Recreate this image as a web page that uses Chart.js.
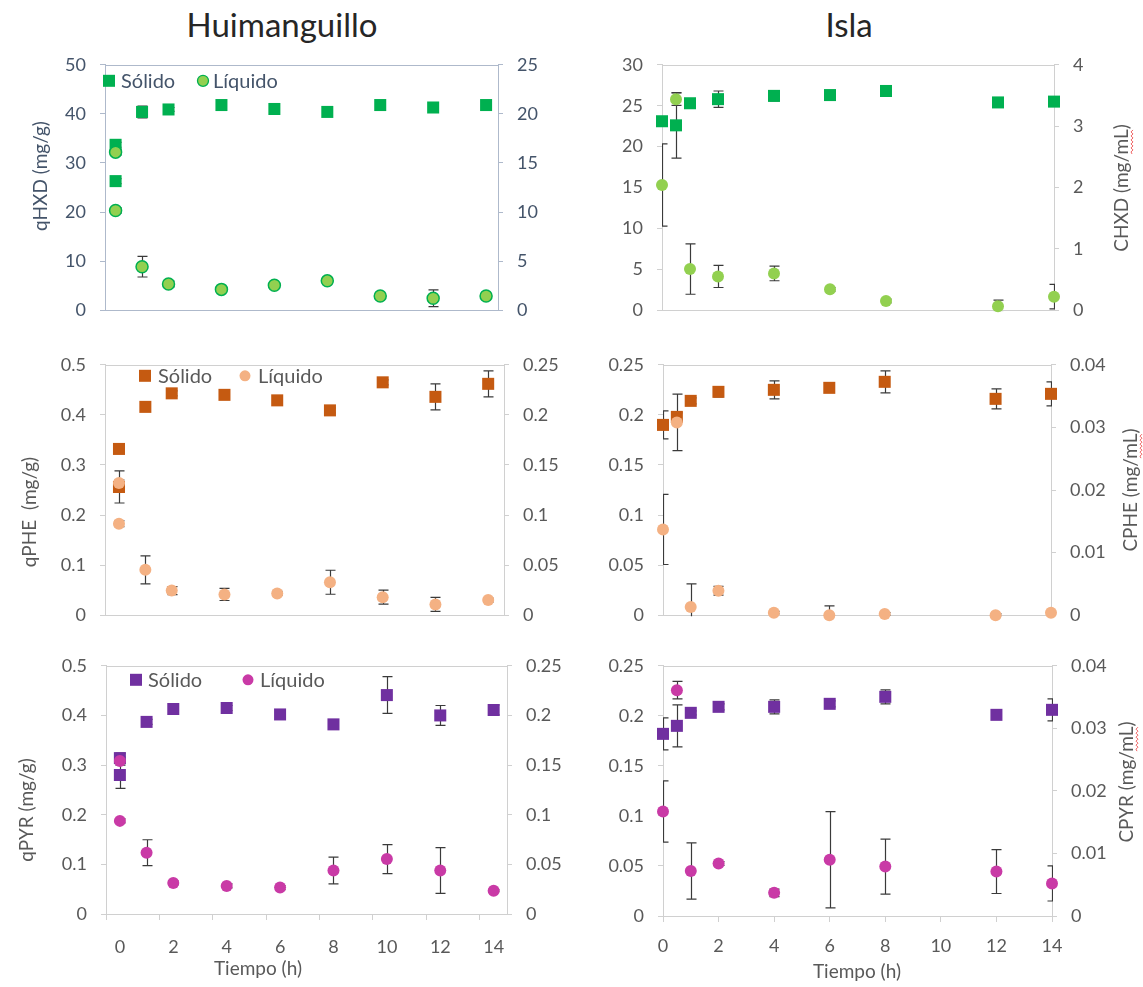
<!DOCTYPE html>
<html><head><meta charset="utf-8">
<script src="https://cdn.jsdelivr.net/npm/chart.js@4.4.1/dist/chart.umd.min.js"></script>
<style>
html,body{margin:0;padding:0;background:#fff;}
body{width:1143px;height:987px;position:relative;overflow:hidden;font-family:Lato,'DejaVu Sans',sans-serif;}
canvas{position:absolute;}
.hdr{position:absolute;font-size:33px;color:#262626;top:4px;transform:translateX(-50%);white-space:nowrap;}
.xt{position:absolute;font-size:19px;color:#595959;transform:translateX(-50%);white-space:nowrap;line-height:22px;}
</style></head><body>
<div class="hdr" style="left:282px">Huimanguillo</div>
<div class="hdr" style="left:849px">Isla</div>
<canvas id="tl"></canvas><canvas id="ml"></canvas><canvas id="bl"></canvas>
<canvas id="tr"></canvas><canvas id="mr"></canvas><canvas id="br"></canvas>
<div class="xt" style="left:258px;top:957px">Tiempo (h)</div>
<div class="xt" style="left:857px;top:960px">Tiempo (h)</div>
<script>
// ---------- data ----------
const hTime = [0, 0, 1, 2, 4, 6, 8, 10, 12, 14];
const iTime = [0, 0.5, 1, 2, 4, 6, 8, 12, 14];
const xTickLabels = [0, 2, 4, 6, 8, 10, 12, 14];

const hHxdSol = [33.7, 26.3, 40.4, 40.9, 41.8, 41.0, 40.4, 41.8, 41.3, 41.8];
const hHxdSolErr = [0.5, 0.5, 1.2, 0.4, 0.3, 0.3, 0.4, 0.4, 0.3, 0.3];
const hHxdLiq = [16.1, 10.15, 4.43, 2.67, 2.12, 2.54, 2.99, 1.45, 1.22, 1.45];
const hHxdLiqErr = [0.3, 0.3, 1.05, 0.3, 0.2, 0.2, 0.3, 0.2, 0.85, 0.2];

const iHxdSol = [23.1, 22.6, 25.3, 25.8, 26.2, 26.3, 26.8, 25.4, 25.5];
const iHxdSolErr = [0.3, 4.0, 0.3, 1.0, 0.6, 0.3, 0.4, 0.3, 0.3];
const iHxdLiq = [2.04, 3.44, 0.67, 0.55, 0.60, 0.34, 0.15, 0.065, 0.22];
const iHxdLiqErr = [0.67, 0.1, 0.41, 0.18, 0.12, 0.03, 0.03, 0.1, 0.2];

const hPheSol = [0.332, 0.256, 0.416, 0.443, 0.440, 0.429, 0.409, 0.465, 0.436, 0.462];
const hPheSolErr = [0.005, 0.032, 0.005, 0.005, 0.005, 0.005, 0.005, 0.005, 0.026, 0.026];
const hPheLiq = [0.132, 0.0913, 0.0453, 0.0246, 0.0207, 0.0217, 0.0329, 0.018, 0.0108, 0.0151];
const hPheLiqErr = [0.003, 0.003, 0.014, 0.004, 0.006, 0.002, 0.012, 0.007, 0.007, 0.002];

const iPheSol = [0.190, 0.198, 0.214, 0.223, 0.225, 0.227, 0.233, 0.216, 0.221];
const iPheSolErr = [0.014, 0.004, 0.003, 0.005, 0.009, 0.004, 0.011, 0.010, 0.012];
const iPheLiq = [0.0137, 0.0308, 0.0013, 0.0039, 0.0004, 0.0000, 0.0002, 0.0000, 0.0004];
const iPheLiqErr = [0.0056, 0.0045, 0.0037, 0.0007, 0.0002, 0.0015, 0.0002, 0.0002, 0.0002];

const hPyrSol = [0.314, 0.280, 0.387, 0.413, 0.415, 0.402, 0.382, 0.441, 0.400, 0.411];
const hPyrSolErr = [0.01, 0.027, 0.005, 0.005, 0.005, 0.004, 0.005, 0.037, 0.02, 0.01];
const hPyrLiq = [0.154, 0.0938, 0.0618, 0.0313, 0.0283, 0.0266, 0.0438, 0.0553, 0.0438, 0.0234];
const hPyrLiqErr = [0.004, 0.002, 0.013, 0.002, 0.002, 0.002, 0.0135, 0.0146, 0.023, 0.001];

const iPyrSol = [0.182, 0.190, 0.203, 0.209, 0.209, 0.212, 0.219, 0.201, 0.206];
const iPyrSolErr = [0.016, 0.021, 0.002, 0.003, 0.007, 0.003, 0.007, 0.004, 0.011];
const iPyrLiq = [0.0167, 0.0361, 0.0072, 0.0084, 0.0037, 0.009, 0.0079, 0.0071, 0.0052];
const iPyrLiqErr = [0.0049, 0.0014, 0.0045, 0.0003, 0.0006, 0.0077, 0.0044, 0.0035, 0.0028];

// tick label arrays
const hHxdQTicks = [0, 10, 20, 30, 40, 50];
const hHxdCTicks = [0, 5, 10, 15, 20, 25];
const iHxdQTicks = [0, 5, 10, 15, 20, 25, 30];
const iHxdCTicks = [0, 1, 2, 3, 4];
const q05Ticks = [0, 0.1, 0.2, 0.3, 0.4, 0.5];
const q025Ticks = [0, 0.05, 0.1, 0.15, 0.2, 0.25];
const c004Ticks = [0, 0.01, 0.02, 0.03, 0.04];

const legendLabels = ['Sólido', 'Líquido'];

// ---------- drawing ----------
const FONT = 'Lato, "DejaVu Sans", sans-serif';
const themeBlue = {text: '#44546A', line: '#AEB9CB'};
const themeGray = {text: '#595959', line: '#D0D0D0'};

const deco = {
  id: 'deco',
  beforeDatasetsDraw(chart, args, o) {
    const {ctx, chartArea: a} = chart;
    ctx.save();
    ctx.strokeStyle = o.line; ctx.lineWidth = 1;
    ctx.strokeRect(Math.round(a.left) + 0.5, Math.round(a.top) + 0.5, Math.round(a.right - a.left), Math.round(a.bottom - a.top));
    ctx.beginPath(); ctx.rect(a.left, a.top - 1, a.right - a.left + 1, a.bottom - a.top + 2); ctx.clip();
    ctx.strokeStyle = '#3a3a3a'; ctx.lineWidth = 1.2;
    chart.data.datasets.forEach(ds => {
      if (!ds.errors) return;
      const ys = chart.scales[ds.yAxisID], xs = chart.scales.x;
      ds.data.forEach((pt, j) => {
        const e = ds.errors[j];
        if (!e) return;
        const x = Math.round(xs.getPixelForValue(pt.x)) + 0.5;
        const y1 = ys.getPixelForValue(pt.y + e), y2 = ys.getPixelForValue(pt.y - e);
        ctx.beginPath();
        ctx.moveTo(x, y1); ctx.lineTo(x, y2);
        ctx.moveTo(x - 5, y1); ctx.lineTo(x + 5, y1);
        ctx.moveTo(x - 5, y2); ctx.lineTo(x + 5, y2);
        ctx.stroke();
      });
    });
    ctx.restore();
  },
  afterDraw(chart, args, o) {
    const {ctx, chartArea: a} = chart;
    ctx.save();
    // legend
    const lg = o.legend;
    if (lg) {
      const y = a.top + lg.dy;
      const ds = chart.data.datasets;
      ctx.font = '20px ' + FONT; ctx.textBaseline = 'middle'; ctx.textAlign = 'left';
      ctx.fillStyle = ds[1].backgroundColor;
      ctx.fillRect(a.left + lg.sq - 6, y - 6, 12, 12);
      ctx.fillStyle = o.text;
      ctx.fillText(legendLabels[0], a.left + lg.t1, y + 1);
      ctx.beginPath(); ctx.arc(a.left + lg.ci, y, 5.5, 0, Math.PI * 2);
      ctx.fillStyle = ds[0].backgroundColor; ctx.fill();
      if (ds[0].borderWidth) { ctx.strokeStyle = ds[0].borderColor; ctx.lineWidth = 1.3; ctx.stroke(); }
      ctx.fillStyle = o.text;
      ctx.fillText(legendLabels[1], a.left + lg.t2, y + 1);
    }
    // axis titles (rotated, reading upward)
    ctx.font = '19px ' + FONT; ctx.textAlign = 'center'; ctx.textBaseline = 'middle';
    o.titles.forEach(t => {
      ctx.save();
      ctx.translate(t.x - o.ox, t.y - o.oy);
      ctx.rotate(-Math.PI / 2);
      ctx.fillStyle = o.text;
      ctx.fillText(t.text, 0, 0);
      if (t.squiggle) {
        const w = ctx.measureText(t.text).width;
        const i0 = t.text.indexOf(t.squiggle);
        const s0 = -w / 2 + ctx.measureText(t.text.slice(0, i0)).width;
        const s1 = s0 + ctx.measureText(t.squiggle).width;
        ctx.strokeStyle = '#F06060'; ctx.lineWidth = 1;
        ctx.beginPath();
        let up = true;
        ctx.moveTo(s0, 10);
        for (let xx = s0 + 2; xx <= s1; xx += 2) { ctx.lineTo(xx, up ? 9 : 11); up = !up; }
        ctx.stroke();
      }
      ctx.restore();
    });
    ctx.restore();
  }
};

function pts(time, vals) { return time.map((t, i) => ({x: t, y: vals[i]})); }

function makePanel(p) {
  const cv = document.getElementById(p.id);
  const [cx, cy, cw, ch] = p.canvas;
  cv.width = cw; cv.height = ch;
  Object.assign(cv.style, {left: cx + 'px', top: cy + 'px', width: cw + 'px', height: ch + 'px'});
  const [L, T, R, B] = p.plot;
  const leftW = L - cx, rightW = cx + cw - R, padTop = T - cy, bottomH = cy + ch - B;
  const th = p.theme;
  const tickFont = {family: FONT, size: 18};
  const yAxis = (arr, pos, w) => ({
    type: 'linear', position: pos, min: arr[0], max: arr[arr.length - 1],
    afterBuildTicks: s => { s.ticks = arr.map(v => ({value: v})); },
    afterFit: s => { s.width = w; },
    ticks: {color: th.text, font: tickFont, padding: 14, callback: v => String(v)},
    grid: {drawOnChartArea: false, drawTicks: true, tickLength: 5, color: th.line},
    border: {display: true, color: th.line}
  });
  const xAxis = p.bottom ? {
    type: 'linear', position: 'bottom', min: p.xr[0], max: p.xr[1],
    afterBuildTicks: s => { s.ticks = xTickLabels.map(v => ({value: v - p.xShift})); },
    afterFit: s => { s.height = bottomH; },
    ticks: {color: th.text, font: tickFont, padding: p.xPad, labelOffset: p.xLabelOffset, maxRotation: 0, autoSkip: false,
            callback: (v, i) => String(xTickLabels[i])},
    grid: {drawOnChartArea: false, drawTicks: true, tickLength: 6, color: th.line},
    border: {display: true, color: th.line}
  } : {type: 'linear', display: false, min: p.xr[0], max: p.xr[1]};
  new Chart(cv, {
    type: 'scatter',
    data: {
      datasets: [
        {label: legendLabels[1], data: pts(p.time, p.liq), errors: p.liqErr, yAxisID: 'y2',
         pointStyle: 'circle', pointRadius: 6, backgroundColor: p.liqColor, borderColor: p.liqBorder || p.liqColor,
         borderWidth: p.liqBorder ? 1.5 : 0, clip: false},
        {label: legendLabels[0], data: pts(p.time, p.sol), errors: p.solErr, yAxisID: 'y',
         pointStyle: 'rect', pointRadius: 8.5, backgroundColor: p.solColor, borderColor: p.solColor,
         borderWidth: 0, clip: false}
      ]
    },
    options: {
      responsive: false, animation: false, events: [],
      layout: {padding: {top: padTop, bottom: p.bottom ? 0 : bottomH, left: 0, right: 0}},
      scales: {x: xAxis, y: yAxis(p.qTicks, 'left', leftW), y2: yAxis(p.cTicks, 'right', rightW)},
      plugins: {
        legend: {display: false}, tooltip: {enabled: false},
        deco: {line: th.line, text: th.text, legend: p.legend, titles: p.titles, ox: cx, oy: cy}
      }
    },
    plugins: [deco]
  });
}

const HXD = {solColor: '#00B050', liqColor: '#92D050'};
const PHE = {solColor: '#C55A11', liqColor: '#F4B183'};
const PYR = {solColor: '#7030A0', liqColor: '#C93AA6'};

makePanel({id: 'tl', canvas: [0, 40, 585, 295], plot: [105, 60, 498, 319], theme: themeBlue,
  xr: [-0.4, 14.45], time: hTime, sol: hHxdSol, solErr: hHxdSolErr, liq: hHxdLiq, liqErr: hHxdLiqErr,
  ...HXD, liqBorder: '#00B050', qTicks: hHxdQTicks, cTicks: hHxdCTicks,
  legend: {dy: 16, sq: 4, t1: 16, ci: 98, t2: 108},
  titles: [{text: 'qHXD (mg/g)', x: 41, y: 176}]});
makePanel({id: 'ml', canvas: [0, 340, 585, 300], plot: [105, 362, 504, 616], theme: themeGray,
  xr: [-0.53, 14.6], time: hTime, sol: hPheSol, solErr: hPheSolErr, liq: hPheLiq, liqErr: hPheLiqErr,
  ...PHE, qTicks: q05Ticks, cTicks: q025Ticks,
  legend: {dy: 11, sq: 40, t1: 53, ci: 140, t2: 153},
  titles: [{text: 'qPHE  (mg/g)', x: 30, y: 512}]});
makePanel({id: 'bl', canvas: [0, 641, 585, 346], plot: [106, 661, 507, 914], theme: themeGray, bottom: true,
  xr: [-0.52, 14.5], xShift: 0.52, xLabelOffset: 14, xPad: 16,
  time: hTime, sol: hPyrSol, solErr: hPyrSolErr, liq: hPyrLiq, liqErr: hPyrLiqErr,
  ...PYR, qTicks: q05Ticks, cTicks: q025Ticks,
  legend: {dy: 14, sq: 30, t1: 42, ci: 142, t2: 154},
  titles: [{text: 'qPYR (mg/g)', x: 27, y: 810}]});
makePanel({id: 'tr', canvas: [590, 40, 553, 295], plot: [662, 60, 1054, 325], theme: themeGray,
  xr: [0, 14], time: iTime, sol: iHxdSol, solErr: iHxdSolErr, liq: iHxdLiq, liqErr: iHxdLiqErr,
  ...HXD, qTicks: iHxdQTicks, cTicks: iHxdCTicks, legend: null,
  titles: [{text: 'CHXD (mg/mL)', x: 1122, y: 188, squiggle: 'mL'}]});
makePanel({id: 'mr', canvas: [590, 340, 553, 300], plot: [663, 362, 1051, 617], theme: themeGray,
  xr: [0, 14], time: iTime, sol: iPheSol, solErr: iPheSolErr, liq: iPheLiq, liqErr: iPheLiqErr,
  ...PHE, qTicks: q025Ticks, cTicks: c004Ticks, legend: null,
  titles: [{text: 'CPHE (mg/mL)', x: 1131, y: 490, squiggle: 'mL'}]});
makePanel({id: 'br', canvas: [590, 641, 553, 346], plot: [663, 661, 1052, 916], theme: themeGray, bottom: true,
  xr: [0, 14], xShift: 0, xLabelOffset: 0, xPad: 13,
  time: iTime, sol: iPyrSol, solErr: iPyrSolErr, liq: iPyrLiq, liqErr: iPyrLiqErr,
  ...PYR, qTicks: q025Ticks, cTicks: c004Ticks, legend: null,
  titles: [{text: 'CPYR (mg/mL)', x: 1127, y: 782, squiggle: 'mL'}]});
</script>
</body></html>
